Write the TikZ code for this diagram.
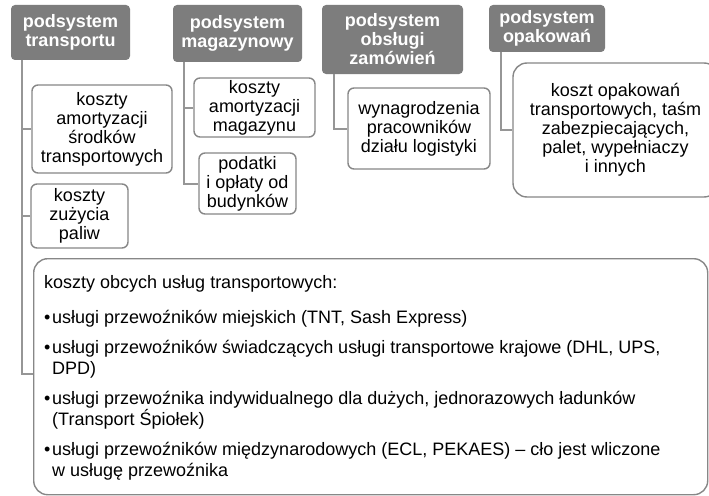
\documentclass[tikz,border=0pt]{standalone}
\usepackage{fontspec}
\setmainfont{Liberation Sans}
\definecolor{hdrfill}{RGB}{125,125,125}
\definecolor{boxline}{RGB}{135,135,135}
\definecolor{connline}{RGB}{150,150,150}
\tikzset{
  hdr/.style={fill=hdrfill, draw=none, rounded corners=4pt, text=white, align=center,
    font=\fontsize{18}{19}\selectfont\bfseries, inner sep=0pt},
  cbox/.style={draw=boxline, line width=1.4pt, rounded corners=6pt, fill=white, align=center,
    font=\fontsize{18}{19}\selectfont, inner sep=0pt},
  bigbox/.style={draw=boxline, line width=1.4pt, rounded corners=14pt, fill=white, inner sep=0pt},
  conn/.style={draw=connline, line width=2pt},
}
\begin{document}
\begin{tikzpicture}[x=1pt,y=-1pt]
\useasboundingbox (0,0) rectangle (709,495);
\clip (0,0) rectangle (709,495);
\fill[white] (0,0) rectangle (709,495);
% headers
\node[hdr, minimum width=119pt, minimum height=55pt] (h1) at (70.5,32.5) {podsystem\\transportu};
\node[hdr, minimum width=129pt, minimum height=57pt] (h2) at (237.5,33.5) {podsystem\\magazynowy};
\node[hdr, minimum width=141pt, minimum height=69pt] (h3) at (392.5,39.5) {podsystem\\obsługi\\zamówień};
\node[hdr, minimum width=116pt, minimum height=47pt] (h4) at (547,28.5) {podsystem\\opakowań};
% coordinates for trunk lines
\coordinate (t1) at (22,374);
\coordinate (t2) at (184,0);
\coordinate (t3) at (334,0);
\coordinate (t4) at (501,0);
% boxes
\node[cbox, minimum width=140pt, minimum height=88pt] (b1) at (102,129) {koszty\\amortyzacji\\środków\\transportowych};
\node[cbox, minimum width=97pt, minimum height=64pt] (b2) at (79.5,216) {koszty\\zużycia\\paliw};
\node[cbox, minimum width=121pt, minimum height=59pt] (b3) at (254.5,107.5) {koszty\\amortyzacji\\magazynu};
\node[cbox, minimum width=97pt, minimum height=61pt] (b4) at (247.5,183.5) {podatki\\i opłaty od\\budynków};
\node[cbox, minimum width=142pt, minimum height=81pt] (b5) at (419,128.5) {wynagrodzenia\\pracowników\\działu logistyki};
\node[cbox, rounded corners=14pt, minimum width=205pt, minimum height=134pt] (b6) at (615.5,130) {koszt opakowań\\transportowych, taśm\\zabezpiecających,\\palet, wypełniaczy\\i innych};
\node[bigbox, anchor=north west, minimum width=674pt, minimum height=236pt] (big) at (33,258) {};
\node[anchor=north west, inner sep=0pt, align=left, font=\fontsize{18}{21.5}\selectfont] (bigtext) at (44,275) {%
koszty obcych usług transportowych:\\[14pt]
\makebox[8pt][l]{•}usługi przewoźników miejskich (TNT, Sash Express)\\[8pt]
\makebox[8pt][l]{•}usługi przewoźników świadczących usługi transportowe krajowe (DHL, UPS,\\
\hspace*{8pt}DPD)\\[8pt]
\makebox[8pt][l]{•}usługi przewoźnika indywidualnego dla dużych, jednorazowych ładunków\\
\hspace*{8pt}(Transport Śpiołek)\\[8pt]
\makebox[8pt][l]{•}usługi przewoźników międzynarodowych (ECL, PEKAES) – cło jest wliczone\\
\hspace*{8pt}w usługę przewoźnika};
% connectors
\draw[conn] (h1.south -| t1) -- (t1) -- (t1 -| big.west);
\draw[conn] (b1.west -| t1) -- (b1.west);
\draw[conn] (b2.west -| t1) -- (b2.west);
\draw[conn] (h2.south -| t2) |- (b4.west);
\draw[conn] (b3.west -| t2) -- (b3.west);
\draw[conn] (h3.south -| t3) |- (b5.west);
\draw[conn] (h4.south -| t4) |- (b6.west);
\end{tikzpicture}
\end{document}
